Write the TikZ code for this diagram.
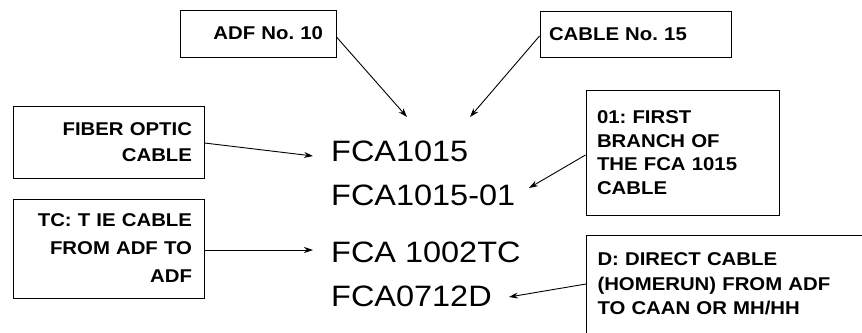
\documentclass[tikz,border=0pt]{standalone}
\usepackage{fontspec}
\usetikzlibrary{arrows.meta}
\newfontfamily\codefont[FakeStretch=1.1]{Liberation Sans}
\newfontfamily\boxfont[FakeStretch=1.1]{Liberation Sans}
\frenchspacing
\begin{document}
\begin{tikzpicture}[x=1pt,y=-1pt,
  labelbox/.style={draw, line width=1pt, inner ysep=2pt,
    font=\boxfont\bfseries\fontsize{18.5}{24}\selectfont},
  code/.style={inner sep=0pt, anchor=base west,
    font=\codefont\fontsize{29.5}{30}\selectfont},
  arr/.style={line width=0.9pt, -{Stealth[length=9pt,width=6pt]}}]
\useasboundingbox (0,0) rectangle (862,332);
\fill[white] (0,0) rectangle (862,332);
% label boxes
\node[labelbox, inner xsep=13pt, text width=130pt, minimum height=47pt, align=right] (adf) at (258,33.5) {ADF No. 10};
\node[labelbox, inner xsep=9pt, text width=173pt, minimum height=46pt, align=left] (cab) at (635.5,34) {CABLE No. 15};
\node[labelbox, inner xsep=12pt, text width=167pt, minimum height=72pt, align=right,
  font=\boxfont\bfseries\fontsize{18.5}{26}\selectfont] (fib) at (108.5,142) {FIBER OPTIC\\CABLE};
\node[labelbox, inner xsep=12pt, text width=167pt, minimum height=99pt, align=right,
  font=\boxfont\bfseries\fontsize{18.5}{28}\selectfont] (tc) at (108.5,248.5) {TC: T IE CABLE\\FROM ADF TO\\ADF};
\node[labelbox, inner xsep=11pt, text width=171pt, minimum height=125pt, align=left,
  font=\boxfont\bfseries\fontsize{18.5}{23.7}\selectfont] (one) at (682.5,152.5) {01: FIRST\\BRANCH OF\\THE FCA 1015\\CABLE};
\node[labelbox, inner xsep=11pt, text width=282pt, minimum height=128pt, align=left, anchor=north west,
  font=\boxfont\bfseries\fontsize{18.5}{24.5}\selectfont] (dbox) at (586,235) {D: DIRECT CABLE\\(HOMERUN) FROM ADF\\TO CAAN OR MH/HH\\\strut};
% codes
\node[code] (t1) at (331,161) {FCA1015};
\node[code] (t2) at (331,205) {FCA1015-01};
\node[code] (t3) at (331,262) {FCA 1002TC};
\node[code] (t4) at (331,306) {FCA0712D};
% arrow tips
\coordinate (p1) at (407,117);
\coordinate (p2) at (470,117);
\coordinate (p3) at (313,156);
\coordinate (p4) at (313,250);
\coordinate (p5) at (529,188);
\coordinate (p6) at (509,297);
% connectors
\draw[arr] (adf.east |- 0,37) -- (p1);
\draw[arr] (cab.west |- 0,36) -- (p2);
\draw[arr] (fib.east |- 0,143) -- (p3);
\draw[arr] (tc.east |- 0,250) -- (p4);
\draw[arr] (one.west |- 0,155) -- (p5);
\draw[arr] (dbox.west |- 0,284) -- (p6);
\end{tikzpicture}
\end{document}
